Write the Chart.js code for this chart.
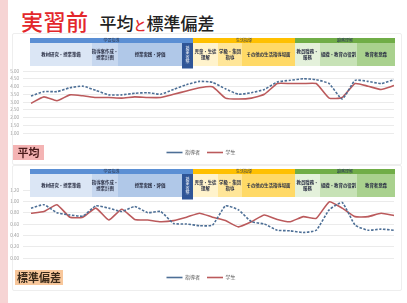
<!DOCTYPE html>
<html><head><meta charset="utf-8">
<script src="https://cdn.jsdelivr.net/npm/chart.js@4"></script>
<style>
html,body{margin:0;padding:0}
body{width:407px;height:303px;background:#fff;position:relative;overflow:hidden;font-family:"Noto Sans CJK JP","Noto Sans",sans-serif}
#strip{position:absolute;left:0;top:0;width:8px;height:303px;background:#f6d4d4}
#title{position:absolute;left:21px;top:4px;white-space:nowrap}
#title .a{color:#e3272b;font-size:22px;font-weight:500;letter-spacing:0.5px}
#title .b{color:#222;font-size:17px;font-weight:500;margin-left:11px}
#title .c{color:#e3272b;font-size:13px}
.panel{position:absolute;left:12px;width:388px;border:1px solid #eee;border-radius:2px}
canvas{position:absolute;left:0}
.tag{position:absolute;font-size:11px;font-weight:700;line-height:15px;text-align:center;color:#4a1b1b}
</style></head>
<body>
<div id="strip"></div>
<div id="title"><span class="a">実習前</span><span class="b">平均<span class="c">と</span>標準偏差</span></div>
<div class="panel" style="top:33px;height:130px"></div>
<div class="panel" style="top:165px;height:124px"></div>
<canvas id="c1" width="400" height="132" style="top:33px"></canvas>
<canvas id="c2" width="400" height="127" style="top:163px"></canvas>
<div class="tag" style="left:13px;top:145px;width:31px;height:15px;background:#f4b4b4">平均</div>
<div class="tag" style="left:15px;top:270px;width:48px;height:15px;background:#f8c79b;color:#3a2a1a">標準偏差</div>
<script>
// ---- data ----
const categories = ['1','2','3','4','5','6','7','8','9','10','11','12','13','14','15','16','17','18','19','20','21','22','23','24','25','26','27','28','29'];
const seriesNames = ['指導者', '学生'];
const meanTeacher = [3.39,3.67,3.67,3.92,4.02,3.75,3.46,3.46,3.56,3.60,3.50,3.81,4.12,4.33,4.27,3.85,3.50,3.60,3.81,4.29,4.40,4.50,4.44,4.19,3.19,4.40,4.33,4.19,4.44];
const meanStudent = [2.92,3.33,3.08,3.46,3.40,3.29,3.29,3.25,3.33,3.29,3.29,3.50,3.71,3.92,3.98,3.25,3.19,3.25,3.50,4.19,4.19,4.19,4.19,3.25,3.29,4.19,4.02,3.81,4.06];
const sdTeacher = [0.88,0.94,0.80,0.76,0.74,0.92,0.88,0.82,0.91,0.80,0.82,0.61,0.60,0.57,0.58,0.92,0.85,0.64,0.60,0.49,0.48,0.45,0.49,0.85,0.98,0.58,0.49,0.51,0.49];
const sdStudent = [0.79,0.82,0.94,0.72,0.72,0.88,0.67,0.86,0.68,0.67,0.64,0.66,0.72,0.79,0.72,0.66,0.55,0.64,0.76,0.68,0.64,0.73,0.70,0.99,0.88,0.73,0.73,0.79,0.75];
const headerGroups = ['学習指導', '生活指導', '職務理解'];
const headerSubs = ['教材研究・授業準備', '指導案作成・\n授業計画', '授業実践・評価', '授業省察', '児童・生徒\n理解', '学級・集団\n指導', 'その他の生活指導場面', '教員職務・\n服務', '組織・教育の役割', '教育者意識'];

// ---- header drawing (layout only) ----
const groupEdges = [30,193,295,395];
const groupColors = ['#5b8fd4','#ffc000','#70ad47'];
const subEdges = [30,92,118,182,193,218,242,295,320,357,395];
const subColors = ['#dbe6f5','#c6d7ef','#b0c8e8','#2f5597','#fff3cc','#ffe699','#ffd966','#e4f1db','#c7e2b6','#a9d18e'];
const FONT = '"Noto Sans CJK JP","Noto Sans",sans-serif';
const headerPlugin = {
  id: 'hdr',
  afterDraw(chart, args, o) {
    const {ctx, chartArea} = chart;
    const px = x => chartArea.left + (x - 31) / 363 * (chartArea.right - chartArea.left);
    ctx.save();
    const bt = o.top, bh = 5, st = o.top + 5, sh = 23;
    for (let i = 0; i < headerGroups.length; i++) {
      const x0 = px(groupEdges[i]), x1 = px(groupEdges[i+1]);
      ctx.fillStyle = groupColors[i];
      ctx.fillRect(x0, bt, x1 - x0, bh);
      ctx.fillStyle = '#2b3a55';
      ctx.font = '4px ' + FONT;
      ctx.textAlign = 'center'; ctx.textBaseline = 'middle';
      ctx.fillText(headerGroups[i], (x0 + x1) / 2, bt + bh / 2 + 0.3);
    }
    for (let i = 0; i < headerSubs.length; i++) {
      const x0 = px(subEdges[i]), x1 = px(subEdges[i+1]);
      const dark = i === 3;
      ctx.fillStyle = subColors[i];
      ctx.fillRect(x0, st, x1 - x0, sh + (dark ? 2.5 : 0));
      ctx.fillStyle = dark ? '#ffffff' : '#2b3045';
      ctx.textAlign = 'center'; ctx.textBaseline = 'middle';
      if (dark) {
        ctx.font = '4px ' + FONT;
        const chars = headerSubs[i].split('');
        chars.forEach((c, k) => ctx.fillText(c, (x0 + x1) / 2, st + 5 + k * 4.6));
      } else {
        ctx.font = 'bold 4.4px ' + FONT;
        const lines = headerSubs[i].split('\n');
        lines.forEach((ln, k) => ctx.fillText(ln, (x0 + x1) / 2, st + sh / 2 + (k - (lines.length - 1) / 2) * 5.5));
      }
    }
    ctx.restore();
  }
};

function makeChart(id, a, b, yMin, yMax, step, padTop, hdrTop) {
  return new Chart(document.getElementById(id), {
    type: 'line',
    data: {
      labels: categories,
      datasets: [
        {label: seriesNames[0], data: a, borderColor: '#4d6f96', backgroundColor: '#4d6f96', borderDash: [2.5, 1.5], borderWidth: 1.6, pointRadius: 0, tension: 0.15},
        {label: seriesNames[1], data: b, borderColor: '#bb5a5c', backgroundColor: '#bb5a5c', borderWidth: 1.6, pointRadius: 0, tension: 0.15}
      ]
    },
    options: {
      responsive: false, animation: false, devicePixelRatio: 1,
      layout: {padding: {top: padTop, left: 8, right: 6, bottom: 0}},
      scales: {
        x: {
          grid: {display: false}, border: {display: false},
          ticks: {color: '#9a9a9a', font: {size: 4.5, family: FONT}, padding: 2, maxRotation: 0, autoSkip: false},
          afterFit: s => { s.height = 10; }
        },
        y: {
          min: yMin, max: yMax,
          grid: {color: '#e6e6e6', lineWidth: 0.8}, border: {display: false},
          ticks: {stepSize: step, autoSkip: false, color: '#9a9a9a', font: {size: 4.5, family: FONT}, padding: 4, callback: v => v.toFixed(2)},
          afterFit: s => { s.width = 23; }
        }
      },
      plugins: {
        legend: {
          position: 'bottom',
          labels: {usePointStyle: true, pointStyle: 'line', pointStyleWidth: 16, boxHeight: 5, color: '#555', font: {size: 5, family: FONT}, padding: 7}
        },
        tooltip: {enabled: false},
        hdr: {top: hdrTop}
      }
    },
    plugins: [headerPlugin]
  });
}
makeChart('c1', meanTeacher, meanStudent, 1, 5, 0.5, 38, 5);
makeChart('c2', sdTeacher, sdStudent, 0, 1.2, 0.2, 27, 6);
</script>
</body></html>
